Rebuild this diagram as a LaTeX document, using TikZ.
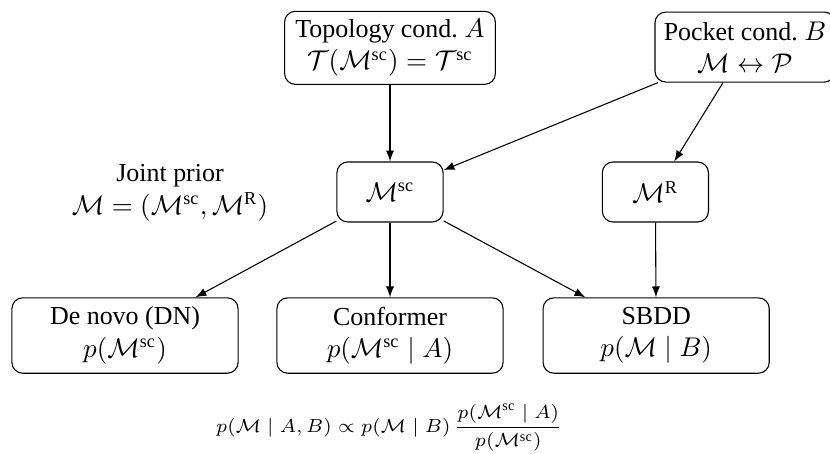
\documentclass[tikz,border=0pt]{standalone}
\usepackage{fontspec}
\setmainfont{Liberation Serif}
\usepackage{amsmath}
\begin{document}
\begin{tikzpicture}[>=latex,font=\fontsize{9.6}{12}\selectfont,
  box/.style={draw,rounded corners,align=center,inner sep=1pt}]
\useasboundingbox (0,0) rectangle (10.79,5.902);
\node [box,minimum width=2.74cm,minimum height=0.95cm] (topo) at (5.07,5.28) {Topology cond.\ $A$\\ $\mathcal{T}(\mathcal{M}^{\mathrm{sc}})=\mathcal{T}^{\mathrm{sc}}$};
\node [box,minimum width=2.34cm,minimum height=0.91cm] (pocket) at (9.685,5.29) {Pocket cond.\ $B$\\ $\mathcal{M}\leftrightarrow\mathcal{P}$};
\node [box,minimum width=1.38cm,minimum height=0.78cm] (msc) at (5.07,3.406) {$\mathcal{M}^{\mathrm{sc}}$};
\node [box,minimum width=1.38cm,minimum height=0.78cm] (mr) at (8.52,3.406) {$\mathcal{M}^{\mathrm{R}}$};
\node [align=center] (prior) at (2.21,3.393) {Joint prior\\ $\mathcal{M}=(\mathcal{M}^{\mathrm{sc}},\mathcal{M}^{\mathrm{R}})$};
\node [box,minimum width=2.94cm,minimum height=0.98cm] (dn) at (1.625,1.54) {De novo (DN)\\ $p(\mathcal{M}^{\mathrm{sc}})$};
\node [box,minimum width=2.94cm,minimum height=0.98cm] (conf) at (5.07,1.54) {Conformer\\ $p(\mathcal{M}^{\mathrm{sc}}\mid A)$};
\node [box,minimum width=2.94cm,minimum height=0.98cm] (sbdd) at (8.53,1.54) {SBDD\\ $p(\mathcal{M}\mid B)$};
\node [font=\fontsize{7.5}{9}\selectfont] (bayes) at (5.06,0.34) {$p(\mathcal{M}\mid A,B)\propto p(\mathcal{M}\mid B)\,\dfrac{p(\mathcal{M}^{\mathrm{sc}}\mid A)}{p(\mathcal{M}^{\mathrm{sc}})}$};
\draw [->] (topo) -- (msc) ;
\draw [->] (pocket) -- (msc) ;
\draw [->] (pocket) -- (mr) ;
\draw [->] (msc) -- (dn) ;
\draw [->] (msc) -- (conf) ;
\draw [->] (msc) -- (sbdd) ;
\draw [->] (mr) -- (sbdd) ;
\end{tikzpicture}
\end{document}
